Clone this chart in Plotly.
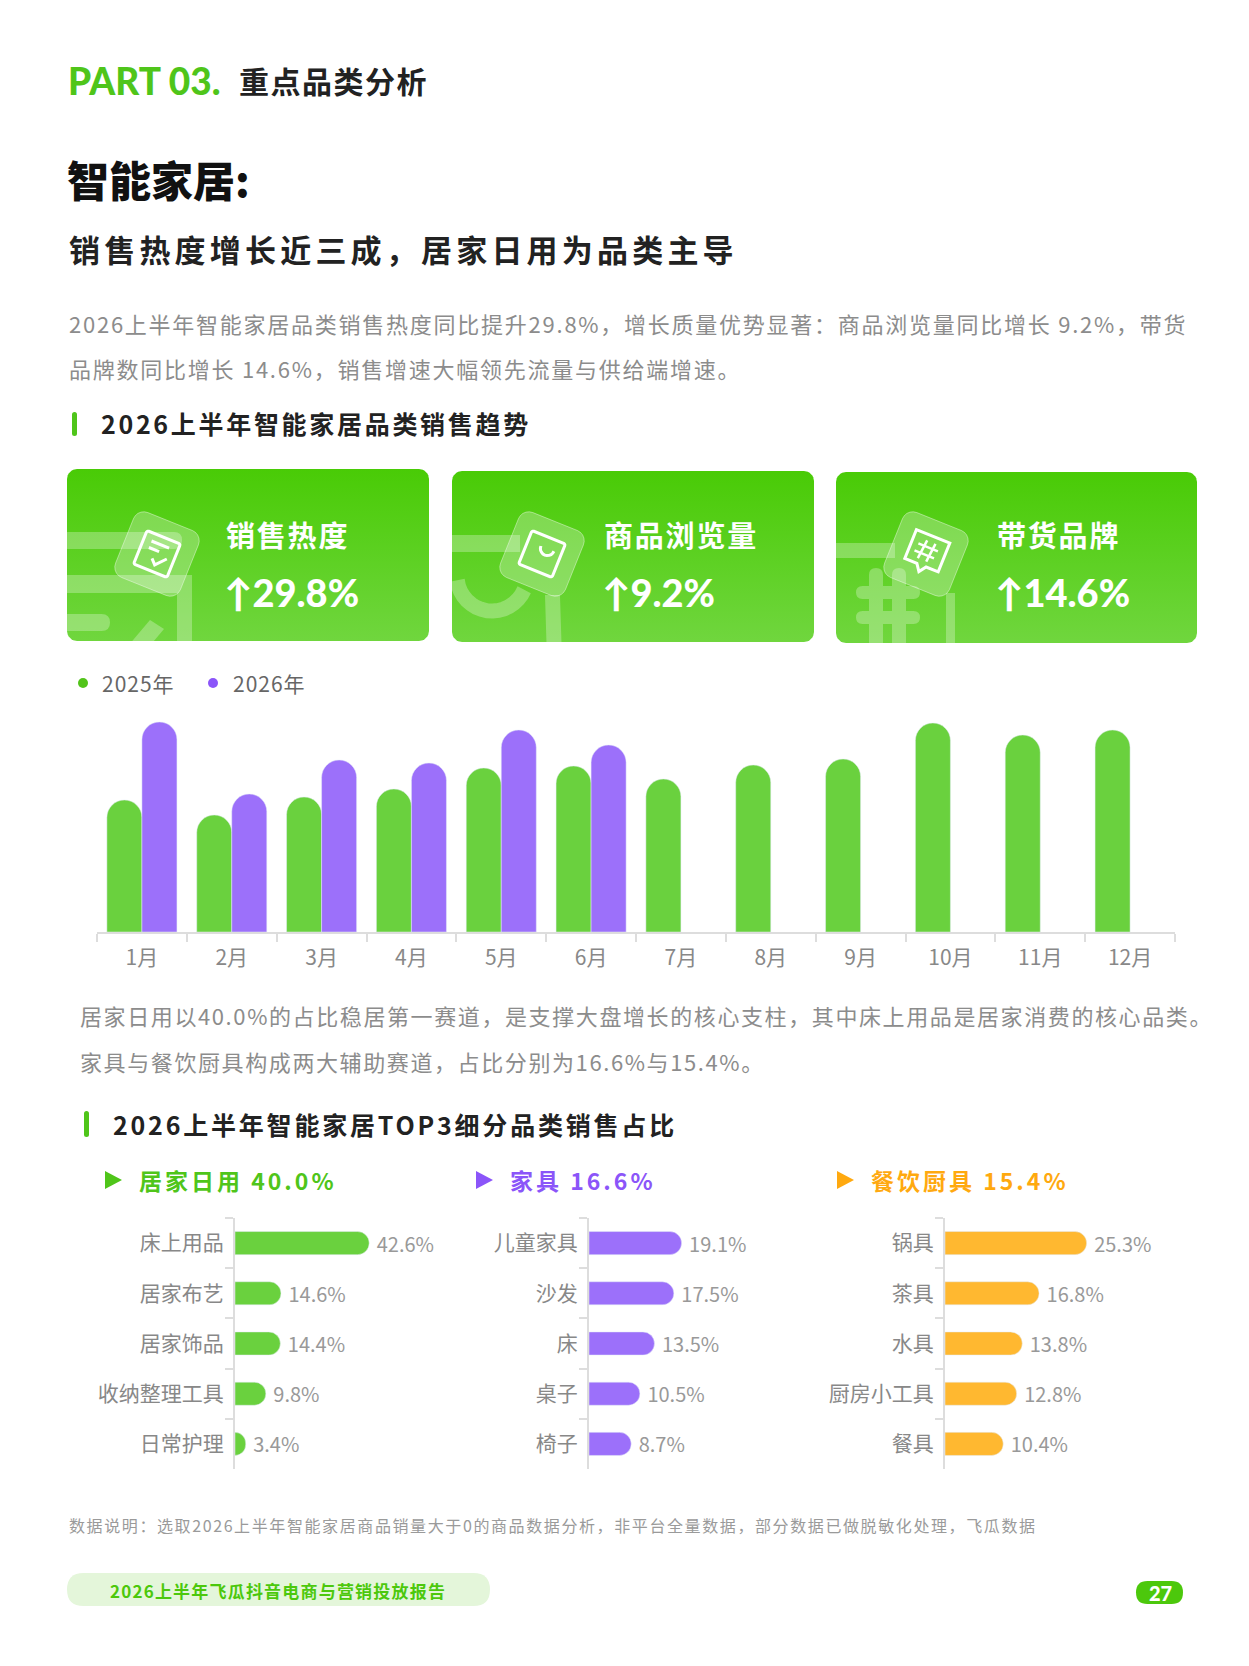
import math
import plotly.graph_objects as go

W, H = 1249, 1666

CJK = "Noto Sans CJK SC"
NUM = "Lato, Noto Sans CJK SC"

# %%
# data

months = ['1月', '2月', '3月', '4月', '5月', '6月', '7月', '8月', '9月', '10月', '11月', '12月']
heat_2025 = [132, 117, 135, 143, 164, 166, 153, 167, 173, 209, 197, 202]
heat_2026 = [210, 138, 172, 169, 202, 187]

card_titles = ['销售热度', '商品浏览量', '带货品牌']
card_values = ['↑29.8%', '↑9.2%', '↑14.6%']

top3_names = ['居家日用', '家具', '餐饮厨具']
top3_shares = ['40.0%', '16.6%', '15.4%']

home_items = ['床上用品', '居家布艺', '居家饰品', '收纳整理工具', '日常护理']
home_share = [42.6, 14.6, 14.4, 9.8, 3.4]

furn_items = ['儿童家具', '沙发', '床', '桌子', '椅子']
furn_share = [19.1, 17.5, 13.5, 10.5, 8.7]

kitchen_items = ['锅具', '茶具', '水具', '厨房小工具', '餐具']
kitchen_share = [25.3, 16.8, 13.8, 12.8, 10.4]

# %%
# colours

GREEN = '#4fc51a'
GREEN_BAR = '#6ad13e'
PURPLE = '#8b55f9'
PURPLE_BAR = '#9c70fa'
ORANGE = '#ffa90f'
ORANGE_BAR = '#ffb830'
GRAY = '#8c8c8c'
DECO = 'rgba(255,255,255,0.28)'


def rrect(x0, y0, x1, y1, r):
    return (f'M{x0 + r},{y0} L{x1 - r},{y0} Q{x1},{y0} {x1},{y0 + r} L{x1},{y1 - r} '
            f'Q{x1},{y1} {x1 - r},{y1} L{x0 + r},{y1} Q{x0},{y1} {x0},{y1 - r} '
            f'L{x0},{y0 + r} Q{x0},{y0} {x0 + r},{y0} Z')


def rrect_pts(x0, y0, x1, y1, r, n=8):
    xs, ys = [], []
    corners = [(x1 - r, y0 + r, -90, 0), (x1 - r, y1 - r, 0, 90),
               (x0 + r, y1 - r, 90, 180), (x0 + r, y0 + r, 180, 270)]
    for cx, cy, a0, a1 in corners:
        for i in range(n + 1):
            a = math.radians(a0 + (a1 - a0) * i / n)
            xs.append(cx + r * math.cos(a))
            ys.append(cy + r * math.sin(a))
    xs.append(xs[0])
    ys.append(ys[0])
    return xs, ys


def rot_path(pts, cx, cy, ang, closed=True):
    a = math.radians(ang)
    out = []
    for i, (u, v) in enumerate(pts):
        x = cx + u * math.cos(a) - v * math.sin(a)
        y = cy + u * math.sin(a) + v * math.cos(a)
        out.append(('M' if i == 0 else 'L') + f'{x:.1f},{y:.1f}')
    return ' '.join(out) + (' Z' if closed else '')


def local_square(h, r, n=5):
    xs, ys = rrect_pts(-h, -h, h, h, r, n)
    return list(zip(xs, ys))[:-1]


def arc_pts(cx, cy, r, a0, a1, n=16):
    return [(cx + r * math.cos(math.radians(a0 + (a1 - a0) * i / n)),
             cy + r * math.sin(math.radians(a0 + (a1 - a0) * i / n))) for i in range(n + 1)]


fig = go.Figure()

# %%
# monthly trend bars

fig.add_trace(go.Bar(x=months, y=heat_2025, name='2025年', marker=dict(color=GREEN_BAR, cornerradius='50%'),
                     xaxis='x', yaxis='y', showlegend=False))
fig.add_trace(go.Bar(x=months[:len(heat_2026)], y=heat_2026, name='2026年',
                     marker=dict(color=PURPLE_BAR, cornerradius='50%'),
                     xaxis='x', yaxis='y', showlegend=False))

# %%
# top3 sub category panels

panels = [
    dict(items=home_items, share=home_share, color=GREEN_BAR, ax='2', left=235, width=200, scale=3.15),
    dict(items=furn_items, share=furn_share, color=PURPLE_BAR, ax='3', left=589, width=200, scale=4.85),
    dict(items=kitchen_items, share=kitchen_share, color=ORANGE_BAR, ax='4', left=945, width=220, scale=5.6),
]

for p in panels:
    fig.add_trace(go.Bar(
        y=p['items'], x=p['share'], orientation='h', width=0.46,
        marker=dict(color=p['color'], cornerradius='50%'),
        text=[f' {v}%' for v in p['share']], textposition='outside', constraintext='none',
        textfont=dict(size=20, color='#999999', family=CJK), cliponaxis=False,
        xaxis='x' + p['ax'], yaxis='y' + p['ax'], showlegend=False))

# %%
# page layer: cards and decoration

cards = [(67, 469, 429, 641), (452, 471, 814, 642), (836, 472, 1197, 643)]

for x0, y0, x1, y1 in cards:
    xs, ys = rrect_pts(x0, y0, x1, y1, 10)
    fig.add_trace(go.Scatter(x=xs, y=ys, mode='lines', fill='toself', line=dict(width=0),
                             fillgradient=dict(type='vertical', start=y0, stop=y1,
                                               colorscale=[[0, '#49cb06'], [1, '#70d63e']]),
                             hoverinfo='skip', showlegend=False, xaxis='x5', yaxis='y5'))

shapes = []


def add_path(path, fill=DECO, line=None, lw=0):
    shapes.append(dict(type='path', path=path, xref='x5', yref='y5', fillcolor=fill, fillrule='nonzero',
                       line=dict(color=line or 'rgba(0,0,0,0)', width=lw)))


def add_stroke(path, color='white', lw=3):
    shapes.append(dict(type='path', path=path, xref='x5', yref='y5', line=dict(color=color, width=lw)))


# card 1 background strokes
add_path(rrect(60, 532, 182, 549, 8))
add_path('M55,575 L192,575 L192,660 L177,660 L177,593 L55,593 Z')
add_path(rrect(48, 614, 110, 631, 8.5))
add_path('M150,620 L164,629 L142,655 L128,646 Z')
# card 2 background strokes
add_path('M440,535 L520,535 L520,552 L440,552 Z')
add_stroke(rot_path(arc_pts(492, 576, 35, 173, 23), 0, 0, 0, closed=False), color=DECO, lw=15)
add_path('M545,595 L560,595 L562,660 L547,660 Z')
# card 3 background strokes
add_path('M825,543 L895,543 L895,558 L825,558 Z')
add_path(rrect(869, 568, 883, 680, 7) + ' ' + rrect(892, 568, 906, 680, 7) + ' ' +
         rrect(856, 586, 920, 599, 6.5) + ' ' + rrect(856, 611, 920, 624, 6.5))
add_path('M946,593 L955,593 L955,660 L946,660 Z')

# tilted glass icons
for i, (x0, y0, x1, y1) in enumerate(cards):
    cx, cy, ang = x0 + 90, 554, 22
    add_path(rot_path(local_square(35, 11), cx, cy, ang), fill='rgba(255,255,255,0.26)',
             line='rgba(255,255,255,0.4)', lw=1)
    if i == 0:
        add_stroke(rot_path(local_square(18, 2), cx, cy, ang))
        add_stroke(rot_path([(-10, -10), (9, -10)], cx, cy, ang, closed=False))
        add_stroke(rot_path([(-10, -3), (1, -3)], cx, cy, ang, closed=False))
        add_stroke(rot_path([(-3, 6), (2, 11), (11, 1)], cx, cy, ang, closed=False))
    elif i == 1:
        add_stroke(rot_path(local_square(18, 2), cx, cy, ang))
        add_stroke(rot_path(arc_pts(3, -7, 7, 0, 180, 10), cx, cy, ang, closed=False))
    else:
        bubble = [(-18, -19), (18, -19), (18, 12), (5, 12), (0, 19), (-5, 12), (-18, 12)]
        add_stroke(rot_path(bubble, cx, cy, ang))
        add_stroke(rot_path([(-4, -13), (-6, 7)], cx, cy, ang, closed=False), lw=2.5)
        add_stroke(rot_path([(5, -13), (3, 7)], cx, cy, ang, closed=False), lw=2.5)
        add_stroke(rot_path([(-11, -7), (10, -7)], cx, cy, ang, closed=False), lw=2.5)
        add_stroke(rot_path([(-12, 1), (9, 1)], cx, cy, ang, closed=False), lw=2.5)

# section markers, legend dots, panel triangles, footer
add_path(rrect(72, 412, 77, 436, 2.5), fill=GREEN)
add_path(rrect(84, 1111, 89, 1137, 2.5), fill=GREEN)
shapes.append(dict(type='circle', xref='x5', yref='y5', x0=78, x1=88, y0=678, y1=688,
                   fillcolor='#52c41a', line=dict(width=0)))
shapes.append(dict(type='circle', xref='x5', yref='y5', x0=208, x1=218, y0=678, y1=688,
                   fillcolor=PURPLE, line=dict(width=0)))
for tx, col in [(105, GREEN), (476, PURPLE), (837, ORANGE)]:
    add_path(f'M{tx},1171 L{tx + 17},1180 L{tx},1189 Z', fill=col)
add_path(rrect(67, 1573, 490, 1606, 16.5), fill='#e4f6da')
add_path(rrect(1136, 1581, 1183, 1604, 11.5), fill='#4cc80c')

# %%
# texts


def txt(x, y, s, size, color, weight='normal', family=CJK, xanchor='left', spacing=None):
    if spacing:
        s = f'<span style="letter-spacing:{spacing}px">{s}</span>'
    fig.add_annotation(x=x, y=y, xref='x5', yref='y5', text=s, showarrow=False, xanchor=xanchor,
                       yanchor='middle', font=dict(size=size, color=color, family=family, weight=weight))


txt(66, 80, 'PART 03.', 37, GREEN, weight=900, family=NUM)
txt(237, 80, '重点品类分析', 30, '#222222', weight='bold', spacing=1.5)
txt(65, 178, '智能家居:', 42, '#111111', weight=900)
txt(67, 248, '销售热度增长近三成，居家日用为品类主导', 31, '#222222', weight='bold', spacing=4.2)
txt(67, 323, '2026上半年智能家居品类销售热度同比提升29.8%，增长质量优势显著：商品浏览量同比增长 9.2%，带货',
    22, GRAY, spacing=1.75)
txt(67, 368, '品牌数同比增长 14.6%，销售增速大幅领先流量与供给端增速。', 22, GRAY, spacing=1.75)
txt(99, 423, '2026上半年智能家居品类销售趋势', 25, '#222222', weight='bold', spacing=2.7)

card_text_x = [224, 602, 995]
for cx, title, value in zip(card_text_x, card_titles, card_values):
    txt(cx, 534, title, 29, 'white', weight='bold', spacing=1.8)
    txt(cx - 2, 592, value, 38, 'white', weight=900, family=NUM)

txt(100, 683, '2025年', 21, '#666666', spacing=1)
txt(231, 683, '2026年', 21, '#666666', spacing=1)

txt(78, 1015, '居家日用以40.0%的占比稳居第一赛道，是支撑大盘增长的核心支柱，其中床上用品是居家消费的核心品类。',
    22, GRAY, spacing=1.6)
txt(78, 1061, '家具与餐饮厨具构成两大辅助赛道，占比分别为16.6%与15.4%。', 22, GRAY, spacing=1.6)
txt(111, 1124, '2026上半年智能家居TOP3细分品类销售占比', 25, '#222222', weight='bold', spacing=2.8)

for hx, name, share, col in zip([137, 508, 869], top3_names, top3_shares, [GREEN, PURPLE, ORANGE]):
    txt(hx, 1180, f'{name} {share}', 23, col, weight='bold', spacing=3)

txt(67, 1525, '数据说明：选取2026上半年智能家居商品销量大于0的商品数据分析，非平台全量数据，部分数据已做脱敏化处理，飞瓜数据',
    16, '#9a9a9a', spacing=1.6)
txt(278, 1590, '2026上半年飞瓜抖音电商与营销投放报告', 17, '#4cc80c', weight='bold', xanchor='center', spacing=1.2)
txt(1160, 1593, '27', 20, 'white', weight=900, family=NUM, xanchor='center')

# %%
# layout

axis_line = dict(showline=True, linecolor='#dddddd', linewidth=2, ticks='outside', tickson='boundaries',
                 ticklen=8, tickwidth=2, tickcolor='#dddddd', showgrid=False, zeroline=False, fixedrange=True)

layout = dict(
    width=W, height=H, margin=dict(l=0, r=0, t=0, b=0),
    paper_bgcolor='white', plot_bgcolor='rgba(0,0,0,0)',
    barmode='group', bargap=0.22, bargroupgap=0,
    font=dict(family=CJK),
    shapes=shapes,
    xaxis=dict(domain=[97 / W, 1175 / W], anchor='y', type='category', tickfont=dict(size=21, color='#888888'),
               ticklabelstandoff=6, **axis_line),
    yaxis=dict(domain=[1 - 932 / H, 1 - 712 / H], anchor='x', range=[0, 220], visible=False, fixedrange=True),
    xaxis5=dict(domain=[0, 1], anchor='y5', range=[0, W], visible=False, fixedrange=True),
    yaxis5=dict(domain=[0, 1], anchor='x5', range=[H, 0], visible=False, fixedrange=True),
)

for p in panels:
    n = p['ax']
    layout['xaxis' + n] = dict(domain=[p['left'] / W, (p['left'] + p['width']) / W], anchor='y' + n,
                               range=[0, p['width'] / p['scale']], visible=False, fixedrange=True)
    layout['yaxis' + n] = dict(domain=[1 - 1469 / H, 1 - 1218 / H], anchor='x' + n, type='category',
                               autorange='reversed', tickfont=dict(size=21, color='#888888'),
                               ticklabelstandoff=5, **axis_line)

fig.update_layout(**layout)

# the page has a default 8px body margin; drop it so the figure sits at the window origin
fig.write_html("out.html", config={'displayModeBar': False},
               post_script="document.body.style.margin='0';")
